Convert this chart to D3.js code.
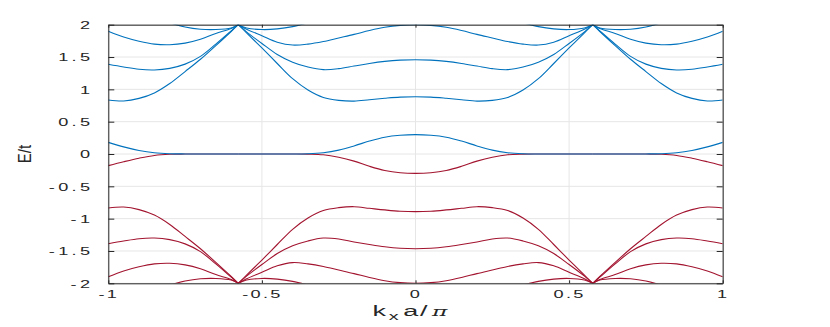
<!DOCTYPE html>
<html>
<head>
<meta charset="utf-8">
<script src="https://cdn.jsdelivr.net/npm/d3@7"></script>
<style>
  html, body { margin: 0; padding: 0; background: #fff; }
  svg { display: block; }
</style>
</head>
<body>
<svg id="chart" width="830" height="327"></svg>
<script>
// ---- data ----
const kGrid = [-1, -0.95, -0.9, -0.85, -0.8, -0.75, -0.7, -0.65, -0.6, -0.577, -0.55, -0.5, -0.45, -0.4, -0.35, -0.3, -0.25, -0.2, -0.15, -0.1, -0.05,
  0, 0.05, 0.1, 0.15, 0.2, 0.25, 0.3, 0.35, 0.4, 0.45, 0.5, 0.55, 0.577, 0.6, 0.65, 0.7, 0.75, 0.8, 0.85, 0.9, 0.95, 1];
const cuspK = [-0.577, 0.577];

const bandUp1 = [0.18, 0.11, 0.055, 0.02, 0.005, 0.001, 0, 0, 0, 0, 0, 0, 0, 0, 0.004, 0.02, 0.06, 0.125, 0.20, 0.26, 0.29,
  0.30, 0.29, 0.26, 0.20, 0.125, 0.06, 0.02, 0.004, 0, 0, 0, 0, 0, 0, 0, 0, 0.001, 0.005, 0.02, 0.055, 0.11, 0.18];
const bandUp2 = [0.835, 0.82, 0.86, 0.945, 1.09, 1.275, 1.465, 1.677, 1.895, 2.0, 1.875, 1.64, 1.40, 1.165, 0.99, 0.875, 0.83, 0.818, 0.84, 0.862, 0.88,
  0.886, 0.88, 0.862, 0.84, 0.818, 0.83, 0.875, 0.99, 1.165, 1.40, 1.64, 1.875, 2.0, 1.895, 1.677, 1.465, 1.275, 1.09, 0.945, 0.86, 0.82, 0.835];
const bandUp3 = [1.387, 1.345, 1.31, 1.30, 1.325, 1.39, 1.51, 1.70, 1.905, 2.0, 1.89, 1.71, 1.54, 1.42, 1.345, 1.305, 1.32, 1.36, 1.40, 1.432, 1.452,
  1.459, 1.452, 1.432, 1.40, 1.36, 1.32, 1.305, 1.345, 1.42, 1.54, 1.71, 1.89, 2.0, 1.905, 1.70, 1.51, 1.39, 1.325, 1.30, 1.31, 1.345, 1.387];
const bandUp4 = [1.90, 1.81, 1.745, 1.70, 1.69, 1.715, 1.775, 1.865, 1.94, 2.0, 1.93, 1.83, 1.73, 1.685, 1.70, 1.74, 1.795, 1.85, 1.91, 1.96, 1.99,
  2.0, 1.99, 1.96, 1.91, 1.85, 1.795, 1.74, 1.70, 1.685, 1.73, 1.83, 1.93, 2.0, 1.94, 1.865, 1.775, 1.715, 1.69, 1.70, 1.745, 1.81, 1.90];
const bandUp5 = [null, null, null, null, 2.03, 1.965, 1.93, 1.925, 1.95, 2.0, 1.95, 1.925, 1.935, 1.97, 2.03, null, null, null, null, null, null,
  null, null, null, null, null, null, null, 2.03, 1.97, 1.935, 1.925, 1.95, 2.0, 1.95, 1.925, 1.93, 1.965, 2.03, null, null, null, null];

const bandDown1 = [-0.18, -0.12, -0.065, -0.022, -0.004, -0.001, 0, 0, 0, 0, 0, 0, 0, 0, -0.002, -0.012, -0.05, -0.11, -0.19, -0.255, -0.29,
  -0.30, -0.29, -0.255, -0.19, -0.11, -0.05, -0.012, -0.002, 0, 0, 0, 0, 0, 0, 0, 0, -0.001, -0.004, -0.022, -0.065, -0.12, -0.18];
const bandDown2 = [-0.835, -0.82, -0.86, -0.945, -1.09, -1.275, -1.465, -1.677, -1.895, -2.0, -1.875, -1.64, -1.40, -1.165, -0.99, -0.875, -0.83, -0.815, -0.84, -0.865, -0.885,
  -0.892, -0.885, -0.865, -0.84, -0.815, -0.83, -0.875, -0.99, -1.165, -1.40, -1.64, -1.875, -2.0, -1.895, -1.677, -1.465, -1.275, -1.09, -0.945, -0.86, -0.82, -0.835];
const bandDown3 = [-1.387, -1.345, -1.31, -1.30, -1.325, -1.39, -1.51, -1.70, -1.905, -2.0, -1.89, -1.71, -1.54, -1.42, -1.345, -1.30, -1.315, -1.36, -1.40, -1.435, -1.458,
  -1.465, -1.458, -1.435, -1.40, -1.36, -1.315, -1.30, -1.345, -1.42, -1.54, -1.71, -1.89, -2.0, -1.905, -1.70, -1.51, -1.39, -1.325, -1.30, -1.31, -1.345, -1.387];
const bandDown4 = [-1.90, -1.81, -1.745, -1.70, -1.69, -1.715, -1.775, -1.865, -1.94, -2.0, -1.93, -1.83, -1.73, -1.68, -1.70, -1.74, -1.795, -1.85, -1.91, -1.96, -1.99,
  -2.0, -1.99, -1.96, -1.91, -1.85, -1.795, -1.74, -1.70, -1.68, -1.73, -1.83, -1.93, -2.0, -1.94, -1.865, -1.775, -1.715, -1.69, -1.70, -1.745, -1.81, -1.90];
const bandDown5 = [null, null, null, null, -2.03, -1.965, -1.93, -1.925, -1.95, -2.0, -1.95, -1.925, -1.935, -1.97, -2.03, null, null, null, null, null, null,
  null, null, null, null, null, null, null, -2.03, -1.97, -1.935, -1.925, -1.95, -2.0, -1.95, -1.925, -1.93, -1.965, -2.03, null, null, null, null];

const upperBands = [bandUp1, bandUp2, bandUp3, bandUp4, bandUp5];
const lowerBands = [bandDown1, bandDown2, bandDown3, bandDown4, bandDown5];

const xTicks = [-1, -0.5, 0, 0.5, 1];
const xTickLabels = ["-1", "-0.5", "0", "0.5", "1"];
const yTicks = [-2, -1.5, -1, -0.5, 0, 0.5, 1, 1.5, 2];
const yTickLabels = ["-2", "-1.5", "-1", "-0.5", "0", "0.5", "1", "1.5", "2"];

// ---- layout ----
const svg = d3.select("#chart");
const L = 108.3, R = 722.7, T = 24.7, B = 283.3;
const x = d3.scaleLinear().domain([-1, 1]).range([L, R]);
const y = d3.scaleLinear().domain([-2, 2]).range([B, T]);

const blue = "#0072BD", red = "#A2142F";
const axisColor = "#262626";
const gridColor = "#e6e6e6";
const tickFont = "'Liberation Sans', Arial, sans-serif";
const sx = 1.65; // horizontal stretch of the text

// grid
const grid = svg.append("g");
grid.selectAll("line.gx").data(xTicks).join("line")
  .attr("x1", d => x(d)).attr("x2", d => x(d)).attr("y1", T).attr("y2", B)
  .attr("stroke", gridColor).attr("stroke-width", 1);
grid.selectAll("line.gy").data(yTicks).join("line")
  .attr("x1", L).attr("x2", R).attr("y1", d => y(d)).attr("y2", d => y(d))
  .attr("stroke", gridColor).attr("stroke-width", 1);

// clip
svg.append("clipPath").attr("id", "clip").append("rect")
  .attr("x", L).attr("y", T).attr("width", R - L).attr("height", B - T);

// split each band at the cusps, then draw smooth segments
function segments(values) {
  const segs = [];
  let cur = [];
  kGrid.forEach((k, i) => {
    const v = values[i];
    if (v === null) { if (cur.length > 1) segs.push(cur); cur = []; return; }
    cur.push([k, v]);
    if (cuspK.includes(k)) { if (cur.length > 1) segs.push(cur); cur = [[k, v]]; }
  });
  if (cur.length > 1) segs.push(cur);
  return segs;
}
const line = d3.line().x(d => x(d[0])).y(d => y(d[1])).curve(d3.curveCatmullRom.alpha(0.5));

const plot = svg.append("g").attr("clip-path", "url(#clip)");
function drawBands(bands, color) {
  bands.forEach(b => {
    segments(b).forEach(seg => {
      plot.append("path").attr("d", line(seg))
        .attr("fill", "none").attr("stroke", color).attr("stroke-width", 1.1);
    });
  });
}
drawBands(lowerBands, red);
drawBands(upperBands, blue);

// axes (ticks pointing inward, box)
const ax = svg.append("g").attr("color", axisColor);
const axBottom = ax.append("g").attr("transform", `translate(0,${B})`)
  .call(d3.axisBottom(x).tickValues(xTicks).tickSizeInner(-3).tickSizeOuter(0).tickFormat((d, i) => xTickLabels[i]));
ax.append("g").attr("transform", `translate(0,${T})`)
  .call(d3.axisTop(x).tickValues(xTicks).tickSizeInner(-3).tickSizeOuter(0).tickFormat(""));
const axLeft = ax.append("g").attr("transform", `translate(${L},0)`)
  .call(d3.axisLeft(y).tickValues(yTicks).tickSizeInner(-6).tickSizeOuter(0).tickFormat((d, i) => yTickLabels[i]));
ax.append("g").attr("transform", `translate(${R},0)`)
  .call(d3.axisRight(y).tickValues(yTicks).tickSizeInner(-6).tickSizeOuter(0).tickFormat(""));
ax.selectAll(".domain").attr("stroke", axisColor).attr("stroke-width", 1);
ax.selectAll(".tick line").attr("stroke", axisColor).attr("stroke-width", 1);

axBottom.selectAll(".tick text")
  .attr("font-family", tickFont).attr("font-size", 11).attr("fill", axisColor)
  .attr("letter-spacing", 1.4)
  .attr("y", 6.5).attr("dy", "0.71em")
  .attr("text-anchor", "middle")
  .attr("transform", `scale(${sx},1)`).attr("x", 0);
axLeft.selectAll(".tick text")
  .attr("font-family", tickFont).attr("font-size", 11).attr("fill", axisColor)
  .attr("letter-spacing", 2)
  .attr("text-anchor", "end")
  .attr("dy", "0.36em")
  .attr("transform", `scale(${sx},1)`).attr("x", -15 / sx);

// y label
svg.append("text")
  .attr("transform", `translate(31,154) scale(1.25,1) rotate(-90)`)
  .attr("text-anchor", "middle")
  .attr("font-family", tickFont).attr("font-size", 15).attr("fill", axisColor)
  .text("E/t");

// x label
const xl = svg.append("text")
  .attr("transform", `translate(410,316) scale(1.8,1)`)
  .attr("text-anchor", "middle")
  .attr("font-family", tickFont).attr("font-size", 15).attr("fill", axisColor);
xl.append("tspan").text("k");
xl.append("tspan").attr("dy", 4).attr("dx", 1.5).attr("font-size", 11).text("x");
xl.append("tspan").attr("dy", -4).attr("dx", 2.5).text("a");
xl.append("tspan").attr("dx", 1).text("/");
xl.append("tspan").attr("dx", 2.5).attr("font-family", "'DejaVu Serif', serif").attr("font-style", "italic").attr("font-size", 13).text("π");
</script>
</body>
</html>
